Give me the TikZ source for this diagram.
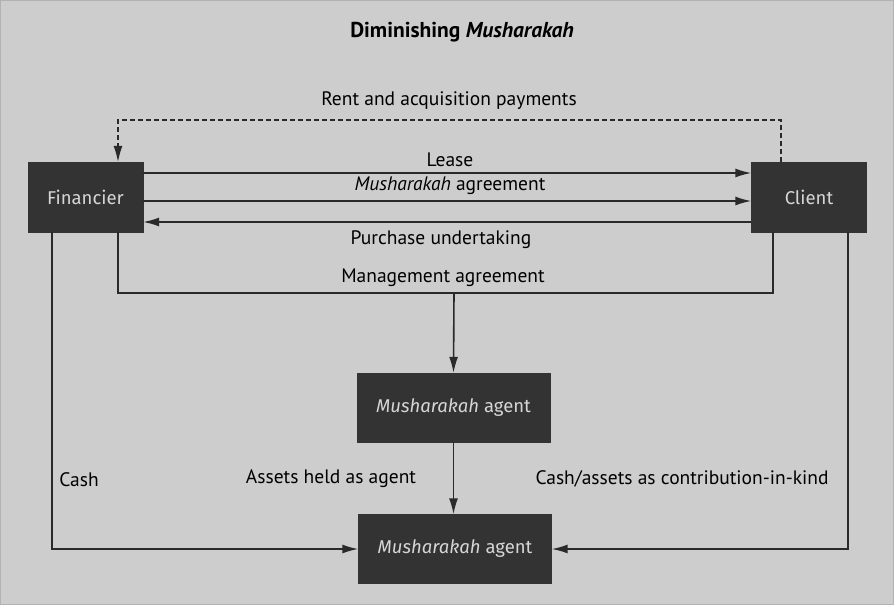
\documentclass[tikz,border=0pt]{standalone}
\usepackage{fontspec}
\setmainfont{PT Sans}
\newfontfamily\boxfont{Fira Sans}
\usetikzlibrary{arrows.meta,positioning,calc}
\definecolor{bggray}{HTML}{CDCDCD}
\definecolor{boxgray}{HTML}{333333}
\definecolor{boxtext}{HTML}{D6D6D6}
\definecolor{linegray}{HTML}{2A2A2A}

\begin{document}
\begin{tikzpicture}[x=1pt,y=-1pt,
  party/.style={fill=boxgray, draw=boxgray, text=boxtext, minimum width=115pt, minimum height=70pt, font=\boxfont\fontsize{18.5}{22}\selectfont, inner sep=0pt},
  agentbox/.style={party, minimum width=193pt, minimum height=69pt},
  flow/.style={draw=linegray, line width=1.6pt, -{Latex[length=16pt,width=9pt]}},
  link/.style={draw=linegray, line width=1.6pt},
  lbl/.style={font=\fontsize{19.5}{22}\selectfont, text=black, inner sep=0pt}]
\useasboundingbox (0,0) rectangle (894,605);
\fill[bggray] (0,0) rectangle (894,605);
\draw[gray!60, line width=0.8pt] (0.5,0.5) rectangle (893.5,604.5);
% boxes
\node[party] (fin) at (85.5,197) {Financier};
\node[party] (cli) at (809,197) {Client};
\node[agentbox] (ag1) at (453.5,407.5) {\textit{Musharakah} agent};
\node[agentbox] (ag2) at (455,549) {\textit{Musharakah} agent};
% titles and labels
\node[lbl, font=\fontsize{21.5}{24}\selectfont\bfseries] (title) at (462,32) {Diminishing \textit{Musharakah}};
\node[lbl] (rentlbl) at (449,101) {Rent and acquisition payments};
\node[lbl] (leaselbl) at (450,160) {Lease};
\node[lbl] (agreelbl) at (450,186) {\textit{Musharakah} agreement};
\node[lbl] (purchlbl) at (441,240) {Purchase undertaking};
\node[lbl] (mgmtlbl) at (443,278) {Management agreement};
\node[lbl] (cashlbl) at (79,480) {Cash};
\node[lbl] (heldlbl) at (331,479) {Assets held as agent};
\node[lbl] (kindlbl) at (682,479) {Cash/assets as contribution-in-kind};
% connectors
\coordinate (rent) at (449,120);
\coordinate (mgmt) at (454,293);
\draw[flow, dash pattern=on 5pt off 3pt, line width=1.2pt] ([xshift=-28pt]cli.north) |- (rent) -| ([xshift=32.5pt]fin.north);
\draw[flow] ([yshift=24pt]fin.east) -- ([yshift=24pt]cli.west);
\draw[flow] ([yshift=-4pt]fin.east) -- ([yshift=-4pt]cli.west);
\draw[flow] ([yshift=-25pt]cli.west) -- ([yshift=-25pt]fin.east);
\draw[link] ([xshift=32.5pt]fin.south) |- (mgmt) -| ([xshift=-36pt]cli.south);
\draw[flow] (mgmt) -- (ag1.north);
\draw[flow] (ag1.south) -- (ag1.south |- ag2.north);
\draw[flow] ([xshift=-33.5pt]fin.south) |- (ag2.west);
\draw[flow] ([xshift=39pt]cli.south) |- (ag2.east);
\end{tikzpicture}
\end{document}
